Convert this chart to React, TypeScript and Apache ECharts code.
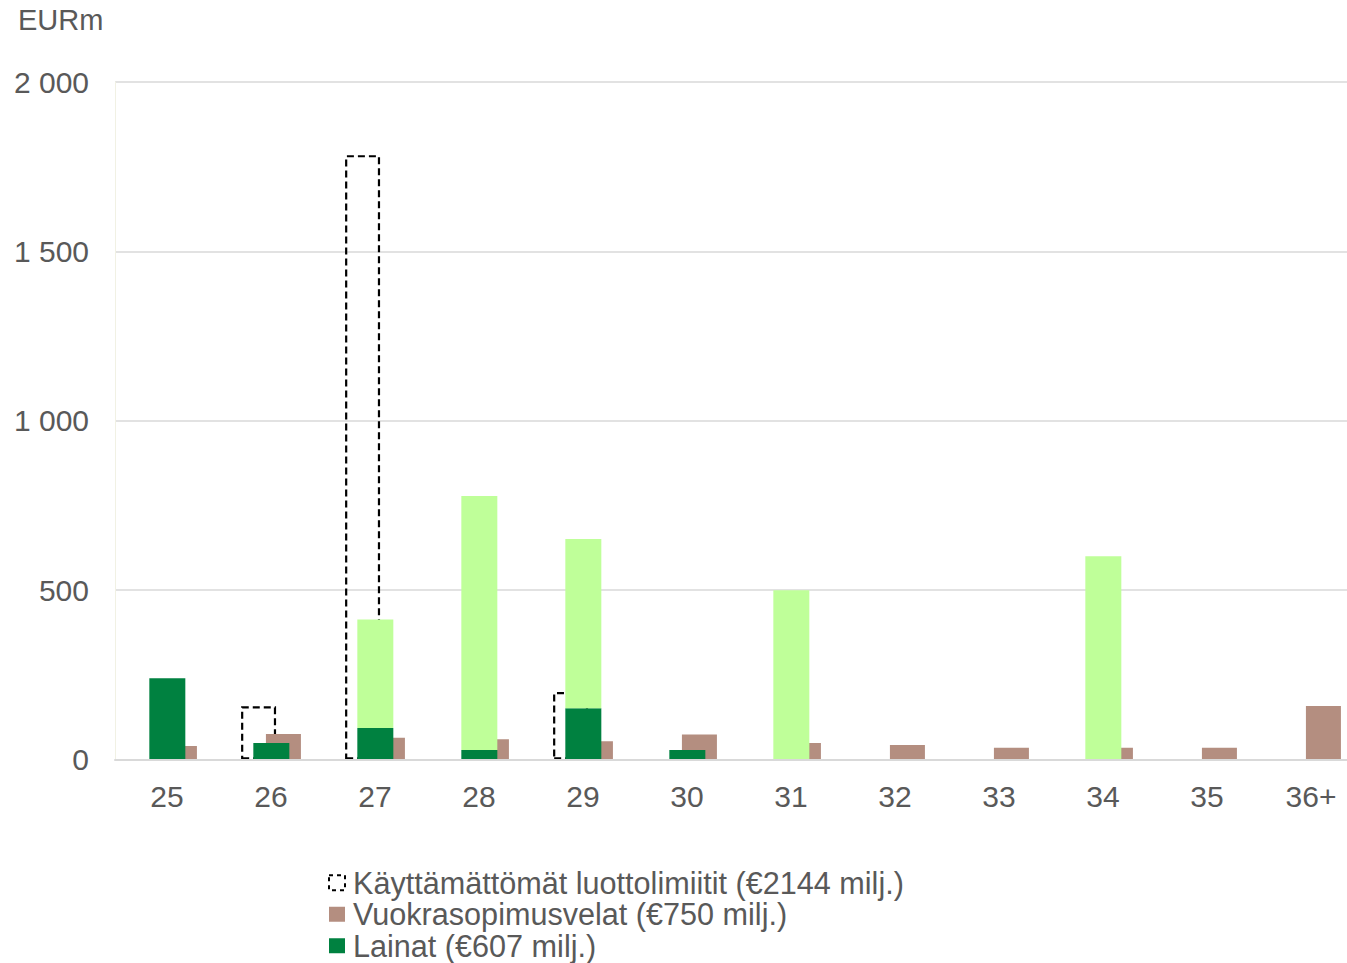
import React, { useEffect, useRef } from "react";
import * as echarts from "echarts";

const categories = ["25", "26", "27", "28", "29", "30", "31", "32", "33", "34", "35", "36+"];
const unusedFacilities = [null, 157, 1784, null, 199, null, null, null, null, null, null, null];
const loans = [240, 49, 93, 28, 151, 28, null, null, null, null, null, null];
const bonds = [null, null, 320, 750, 500, null, 500, null, null, 600, null, null];
const leases = [40, 75, 64, 60, 54, 74, 49, 43, 35, 35, 35, 158];

const NAME_UNUSED = "Käyttämättömät luottolimiitit (€2144 milj.)";
const NAME_LEASES = "Vuokrasopimusvelat (€750 milj.)";
const NAME_LOANS = "Lainat (€607 milj.)";
const NAME_BONDS = "Joukkovelkakirjalainat";

const TEXT = "#595959";
const FONT = "Liberation Sans, Arial, sans-serif";

export default function App() {
  const ref = useRef<HTMLDivElement>(null);
  useEffect(() => {
    if (!ref.current) return;
    const chart = echarts.init(ref.current, null, { renderer: "svg" });
    const fmt = (v: number) => String(v).replace(/\B(?=(\d{3})+(?!\d))/g, " ");
    chart.setOption({
      animation: false,
      backgroundColor: "#ffffff",
      textStyle: { fontFamily: FONT },
      grid: { left: 115, right: 0, top: 82, bottom: 203.5, containLabel: false },
      graphic: [
        {
          type: "text",
          x: 18,
          y: 20,
          style: {
            text: "EURm",
            fill: TEXT,
            fontSize: 29,
            fontFamily: FONT,
            verticalAlign: "middle",
          },
        },
      ],
      legend: {
        orient: "vertical",
        left: 328,
        top: 867,
        padding: 0,
        itemWidth: 16,
        itemHeight: 15,
        itemGap: 0,
        icon: "rect",
        data: [
          {
            name: NAME_UNUSED,
            icon: "rect",
            itemStyle: {
              color: "rgba(0,0,0,0)",
              borderColor: "#000000",
              borderWidth: 2,
              borderType: [4, 4],
            },
          },
          { name: NAME_LEASES, icon: "rect" },
          { name: NAME_LOANS, icon: "rect" },
        ],
        textStyle: {
          color: TEXT,
          fontSize: 30.6,
          lineHeight: 31.5,
          fontFamily: FONT,
          padding: [0, 0, 0, 3],
        },
      },
      xAxis: {
        type: "category",
        data: categories,
        z: 4,
        axisTick: { show: false },
        axisLine: { show: true, lineStyle: { color: "#d9d9d9", width: 2 } },
        axisLabel: { color: TEXT, fontSize: 30, margin: 22 },
      },
      yAxis: {
        type: "value",
        min: 0,
        max: 2000,
        interval: 500,
        axisLine: { show: true, lineStyle: { color: "#f1f1e4", width: 1 } },
        axisTick: { show: false },
        splitLine: { lineStyle: { color: "#d9d9d9", width: 1.5 } },
        axisLabel: { color: TEXT, fontSize: 30, margin: 26, formatter: fmt },
      },
      series: [
        {
          name: NAME_UNUSED,
          type: "bar",
          data: unusedFacilities,
          barWidth: 35,
          barGap: "-65%",
          z: 1,
          itemStyle: {
            color: "rgba(0,0,0,0)",
            borderColor: "#000000",
            borderWidth: 2.2,
            borderType: [7, 4],
          },
        },
        {
          name: NAME_LOANS,
          type: "bar",
          stack: "debt",
          data: loans,
          barWidth: 36,
          barGap: "-65%",
          z: 3,
          itemStyle: { color: "#008140" },
        },
        {
          name: NAME_BONDS,
          type: "bar",
          stack: "debt",
          data: bonds,
          barWidth: 36,
          barGap: "-65%",
          z: 3,
          itemStyle: { color: "#bfff99" },
        },
        {
          name: NAME_LEASES,
          type: "bar",
          data: leases,
          barWidth: 35,
          barGap: "-65%",
          z: 2,
          itemStyle: { color: "#b48e80" },
        },
      ],
    });
    return () => chart.dispose();
  }, []);
  return (
    <div
      style={{
        position: "absolute",
        left: 0,
        top: 0,
        width: 1347,
        height: 963,
        overflow: "hidden",
      }}
    >
      <div ref={ref} style={{ width: 1363, height: 963 }} />
    </div>
  );
}
